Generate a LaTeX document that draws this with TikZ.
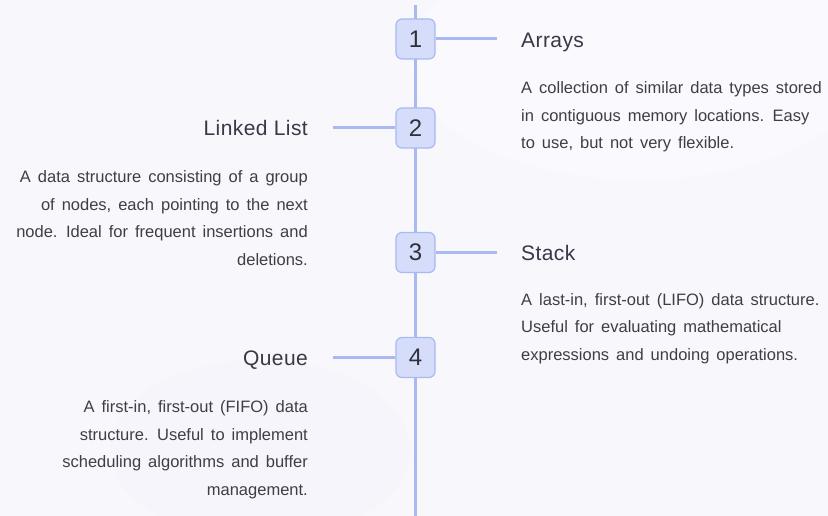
\documentclass[tikz,border=0pt]{standalone}
\usepackage{fontspec}
\setmainfont{Liberation Sans}
\newfontfamily\descfont{Liberation Sans}
\newfontfamily\titlefont[LetterSpace=2]{Liberation Sans}
\definecolor{bg}{HTML}{F7F7FC}
\definecolor{blob}{HTML}{F9F9FE}
\definecolor{blobdark}{HTML}{F4F4FB}
\definecolor{lineblue}{HTML}{A9B9F2}
\definecolor{boxfill}{HTML}{D5DDFA}
\definecolor{titlecol}{HTML}{383846}
\definecolor{desccol}{HTML}{3E3E46}
\definecolor{numcol}{HTML}{30303C}
\newcommand{\descfmt}{\descfont\fontsize{16.5}{27.6}\selectfont\spaceskip=7pt\relax}
\tikzset{
  numbox/.style={draw=lineblue, fill=boxfill, line width=1.2pt, rounded corners=6pt,
    minimum width=39pt, minimum height=40pt, inner sep=0pt, text=numcol,
    font=\fontsize{24}{28}\selectfont},
  spine/.style={draw=lineblue, line width=2.5pt},
  conn/.style={draw=lineblue, line width=3pt},
  ttl/.style={inner sep=0pt, text=titlecol, font=\titlefont\fontsize{21}{25}\selectfont},
  desc/.style={inner sep=0pt, text=desccol, font=\descfmt}
}
\newcommand{\fstrut}{\rule{0pt}{12pt}}
\begin{document}
\begin{tikzpicture}[x=1pt,y=-1pt]
\fill[bg] (0,0) rectangle (828,516);
\useasboundingbox (0,0) rectangle (828,516);
% faint background blobs
\fill[blob] (640,60) ellipse (230pt and 120pt);
\fill[blobdark, opacity=0.5] (260,450) ellipse (150pt and 90pt);
% spine
\coordinate (top) at (415.5,5);
\coordinate (bot) at (415.5,516);
\draw[spine] (top) -- (bot);
% number boxes
\node[numbox] (n1) at (415.5,39) {1};
\node[numbox] (n2) at (415.5,128) {2};
\node[numbox] (n3) at (415.5,252.5) {3};
\node[numbox] (n4) at (415.5,357.5) {4};
% connector ends
\coordinate (e1) at (497,39);
\coordinate (e2) at (333,128);
\coordinate (e3) at (497,252.5);
\coordinate (e4) at (333,357.5);
\draw[conn] (n1.east) -- (e1);
\draw[conn] (e2) -- (n2.west);
\draw[conn] (n3.east) -- (e3);
\draw[conn] (e4) -- (n4.west);
% titles
\node[ttl, anchor=base west] (t1) at (521,48) {Arrays};
\node[ttl, anchor=base east] (t2) at (308,136) {Linked List};
\node[ttl, anchor=base west] (t3) at (521,260) {Stack};
\node[ttl, anchor=base east] (t4) at (308,365) {Queue};
% descriptions
\node[desc, anchor=north west, align=left] (d1) at (521,81.5) {\fstrut A collection of similar data types stored\\ in contiguous memory locations. Easy\\ to use, but not very flexible.};
\node[desc, anchor=north east, align=right] (d2) at (308,170.5) {\fstrut A data structure consisting of a group\\ of nodes, each pointing to the next\\ node. Ideal for frequent insertions and\\ deletions.};
\node[desc, anchor=north west, align=left] (d3) at (521,293) {\fstrut A last-in, first-out (LIFO) data structure.\\ Useful for evaluating mathematical\\ expressions and undoing operations.};
\node[desc, anchor=north east, align=right] (d4) at (308,400.5) {\fstrut A first-in, first-out (FIFO) data\\ structure. Useful to implement\\ scheduling algorithms and buffer\\ management.};
\end{tikzpicture}
\end{document}
